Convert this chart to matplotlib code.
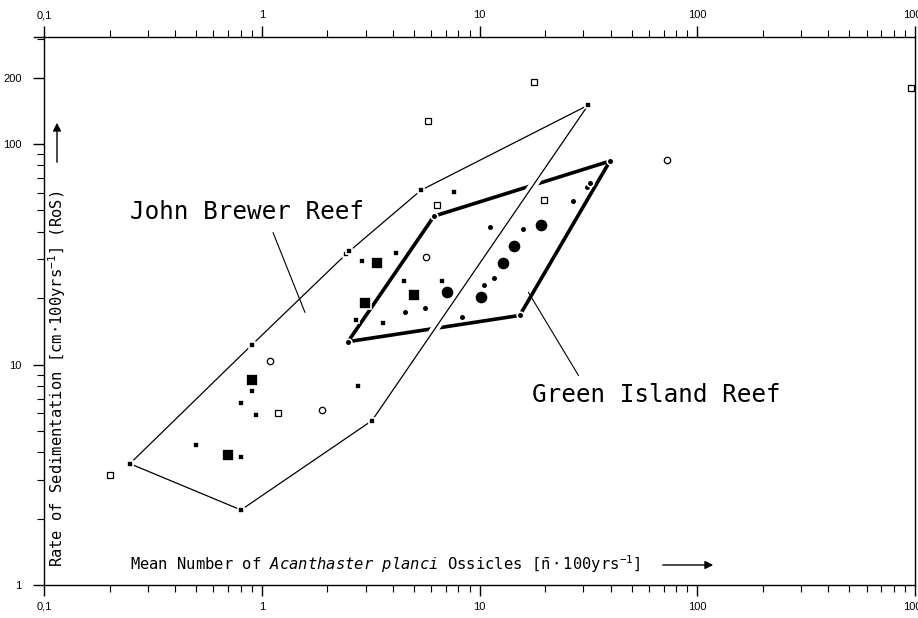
import matplotlib
matplotlib.use("Agg")
import matplotlib.pyplot as plt
import matplotlib.patheffects as pe
from matplotlib.patches import FancyArrowPatch
from matplotlib.ticker import FixedLocator, NullFormatter, LogLocator

# --- data -------------------------------------------------------------
# John Brewer Reef envelope (closed polygon, thin line)
jb_hull_x = [0.248, 0.902, 2.45, 2.52, 5.39, 31.5, 3.21, 0.803, 0.248]
jb_hull_y = [3.55, 12.3, 31.8, 32.6, 61.8, 150.0, 5.57, 2.19, 3.55]

# Green Island Reef envelope (closed polygon, thick line)
gi_hull_x = [2.49, 6.18, 39.7, 15.3, 2.49]
gi_hull_y = [12.7, 47.1, 83.7, 16.7, 12.7]

# small filled squares (John Brewer Reef)
sq_small_x = [0.50, 0.80, 0.90, 0.80, 0.94, 2.77, 7.6, 2.89, 4.14,
              4.50, 6.7, 2.71, 3.60]
sq_small_y = [4.3, 3.8, 7.6, 6.7, 5.9, 8.0, 60.5, 29.4, 31.9,
              23.9, 23.9, 15.9, 15.4]

# large filled squares
sq_big_x = [0.70, 0.90, 3.38, 2.98, 5.0]
sq_big_y = [3.9, 8.5, 28.8, 19.1, 20.6]

# open squares
sq_open_x = [0.20, 1.19, 6.4, 19.8, 17.8, 5.8, 960.0]
sq_open_y = [3.16, 6.0, 53.0, 55.6, 191.0, 127.0, 180.0]

# open circles
ci_open_x = [1.09, 1.89, 5.68, 73.0]
ci_open_y = [10.4, 6.2, 30.6, 85.0]

# small filled dots (Green Island Reef)
dot_small_x = [4.55, 5.6, 8.3, 10.5, 11.7, 11.2, 15.8, 26.9, 31.2, 32.2]
dot_small_y = [17.4, 18.0, 16.4, 22.9, 24.6, 42.0, 41.1, 55.0, 63.8, 66.5]

# large filled dots
dot_big_x = [7.1, 10.2, 12.8, 14.4, 19.2]
dot_big_y = [21.3, 20.2, 28.8, 34.4, 42.8]

x_tick_vals = [0.1, 1, 10, 100, 1000]
x_tick_text = ["0,1", "1", "10", "100", "1000"]
y_tick_vals = [1, 10, 100, 200]
y_tick_text = ["1", "10", "100", "200"]

# --- figure -----------------------------------------------------------
plt.rcParams["font.family"] = ["DejaVu Sans Mono", "DejaVu Sans"]
plt.rcParams["mathtext.fontset"] = "custom"
plt.rcParams["mathtext.rm"] = "DejaVu Sans Mono"
plt.rcParams["mathtext.it"] = "DejaVu Sans Mono:oblique"
plt.rcParams["mathtext.bf"] = "DejaVu Sans Mono:bold"

fig = plt.figure(figsize=(9.18, 6.18), dpi=100)
ax = fig.add_axes([44 / 918, 33 / 618, 871 / 918, 548 / 618])
ax.set_xscale("log")
ax.set_yscale("log")
ax.set_xlim(0.1, 1000)
ax.set_ylim(1, 306)

# envelopes
ax.plot(gi_hull_x, gi_hull_y, color="black", lw=2.6, solid_capstyle="butt",
        zorder=2)
ax.plot(jb_hull_x, jb_hull_y, color="black", lw=0.9, zorder=3,
        path_effects=[pe.Stroke(linewidth=6, foreground="white"), pe.Normal()])

common = dict(linestyle="none", zorder=5)
filled_sq = dict(marker="s", mfc="black", mec="white", mew=1.2, **common)
filled_ci = dict(marker="o", mfc="black", mec="white", mew=1.2, **common)
ax.plot(jb_hull_x[:-1], jb_hull_y[:-1], ms=4.6, **filled_sq)
ax.plot(gi_hull_x[:-1], gi_hull_y[:-1], ms=4.8, **filled_ci)
ax.plot(sq_small_x, sq_small_y, ms=4.6, **filled_sq)
ax.plot(sq_big_x, sq_big_y, ms=8.6, **filled_sq)
ax.plot(dot_small_x, dot_small_y, ms=4.8, **filled_ci)
ax.plot(dot_big_x, dot_big_y, ms=9.6, **filled_ci)
ax.plot(sq_open_x, sq_open_y, marker="s", ms=4.3, mfc="white",
        mec="black", mew=0.9, clip_on=False, **common)
ax.plot(ci_open_x, ci_open_y, marker="o", ms=4.6, mfc="white",
        mec="black", mew=0.9, **common)

# axes styling
for s in ax.spines.values():
    s.set_linewidth(1.0)
ax.tick_params(axis="x", which="both", direction="out", top=True,
               labeltop=True, bottom=True, labelbottom=True, pad=4)
ax.tick_params(axis="x", which="major", length=8, width=1.0)
ax.tick_params(axis="x", which="minor", length=5, width=0.8)
ax.tick_params(axis="y", which="both", direction="out", left=True,
               right=False, pad=8)
ax.tick_params(axis="y", which="major", length=8, width=1.0)
ax.tick_params(axis="y", which="minor", length=5, width=0.8)
ax.xaxis.set_major_locator(FixedLocator(x_tick_vals))
ax.set_xticklabels(x_tick_text)
ax.xaxis.set_minor_locator(LogLocator(base=10, subs=range(2, 10)))
ax.xaxis.set_minor_formatter(NullFormatter())
ax.yaxis.set_major_locator(FixedLocator(y_tick_vals))
ax.set_yticklabels(y_tick_text)
ax.yaxis.set_minor_locator(LogLocator(base=10, subs=range(2, 10)))
ax.yaxis.set_minor_formatter(NullFormatter())
for lab in ax.get_xticklabels() + ax.get_yticklabels():
    lab.set_family("Liberation Sans")
    lab.set_fontsize(8)

# top spine overhang at upper left corner
ax.plot([-0.012, 0], [1, 1], transform=ax.transAxes, color="black",
        lw=1.0, clip_on=False)

# axis titles with arrows
fig.text(130 / 918, 1 - 564 / 618,
         r"Mean Number of $Acanthaster$ $planci$ Ossicles "
         r"[$\bar{\mathrm{n}}\cdot$100yrs$^{-1}$]",
         fontsize=11.2, va="center", ha="left")
fig.add_artist(FancyArrowPatch(
    (660 / 918, 1 - 565 / 618), (716 / 918, 1 - 565 / 618),
    transform=fig.transFigure, arrowstyle="-|>", mutation_scale=12,
    color="black", lw=1.0))
fig.text(57 / 918, 1 - 567 / 618,
         r"Rate of Sedimentation [cm$\cdot$100yrs$^{-1}$] (RoS)",
         fontsize=11.2, va="bottom", ha="center", rotation=90)
fig.add_artist(FancyArrowPatch(
    (57 / 918, 1 - 165 / 618), (57 / 918, 1 - 120 / 618),
    transform=fig.transFigure, arrowstyle="-|>", mutation_scale=12,
    color="black", lw=1.0))

# reef labels with leader lines
fig.text(130 / 918, 1 - 212 / 618, "John Brewer Reef",
         fontsize=17.5, va="center", ha="left")
fig.add_artist(FancyArrowPatch(
    (272 / 918, 1 - 230 / 618), (306 / 918, 1 - 315 / 618),
    transform=fig.transFigure, arrowstyle="-", lw=0.8, color="black"))
fig.text(532 / 918, 1 - 395 / 618, "Green Island Reef",
         fontsize=17.5, va="center", ha="left")
fig.add_artist(FancyArrowPatch(
    (527 / 918, 1 - 290 / 618), (580 / 918, 1 - 378 / 618),
    transform=fig.transFigure, arrowstyle="-", lw=0.8, color="black"))

fig.savefig("out.png", dpi=100, facecolor="white")
